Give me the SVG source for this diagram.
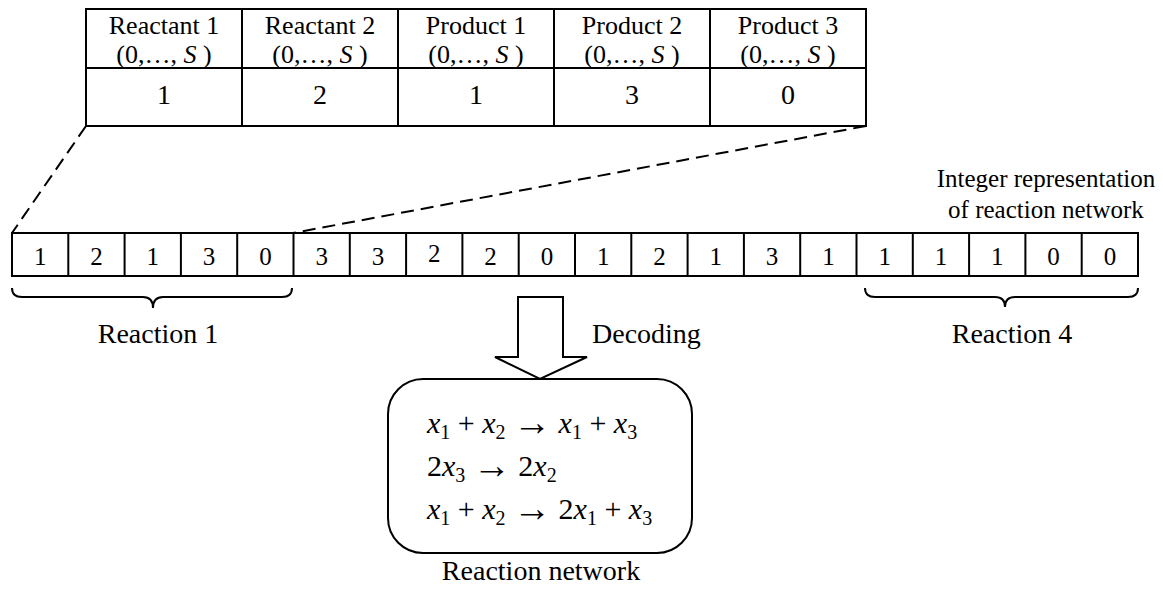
<svg xmlns="http://www.w3.org/2000/svg" width="1163" height="590" viewBox="0 0 1163 590" font-family="Liberation Serif, Times New Roman, Tinos, DejaVu Serif, serif">
<style>
text{fill:#000}
.hd{font-size:26px;text-anchor:middle}
.val{font-size:28px;text-anchor:middle}
.dig{font-size:25px;text-anchor:middle}
.lbl{font-size:28px}
.eq{font-size:30px}
.sub{font-size:20px}
.arw{font-size:38px}
.ln{stroke:#000;stroke-width:2;fill:none}
.dash{stroke:#000;stroke-width:2;fill:none;stroke-dasharray:13 7}
</style>
<rect width="1163" height="590" fill="#fff"/>
<g id="table">
<rect class="ln" x="86" y="9" width="780" height="117"/>
<line class="ln" x1="86" y1="68" x2="866" y2="68"/>
<line class="ln" x1="242" y1="9" x2="242" y2="126"/>
<line class="ln" x1="398" y1="9" x2="398" y2="126"/>
<line class="ln" x1="554" y1="9" x2="554" y2="126"/>
<line class="ln" x1="710" y1="9" x2="710" y2="126"/>
<text class="hd" x="164" y="34">Reactant 1</text>
<text class="hd" x="320" y="34">Reactant 2</text>
<text class="hd" x="476" y="34">Product 1</text>
<text class="hd" x="632" y="34">Product 2</text>
<text class="hd" x="788" y="34">Product 3</text>
<text class="hd" x="164" y="63">(0,…, <tspan font-style="italic">S</tspan> )</text>
<text class="hd" x="320" y="63">(0,…, <tspan font-style="italic">S</tspan> )</text>
<text class="hd" x="476" y="63">(0,…, <tspan font-style="italic">S</tspan> )</text>
<text class="hd" x="632" y="63">(0,…, <tspan font-style="italic">S</tspan> )</text>
<text class="hd" x="788" y="63">(0,…, <tspan font-style="italic">S</tspan> )</text>
<text class="val" x="164" y="104">1</text>
<text class="val" x="320" y="104">2</text>
<text class="val" x="476" y="104">1</text>
<text class="val" x="632" y="104">3</text>
<text class="val" x="788" y="104">0</text>
</g>
<g id="connectors">
<line class="dash" x1="86" y1="126" x2="12" y2="233"/>
<line class="dash" x1="866" y1="126" x2="293" y2="233"/>
</g>
<g id="integer-row">
<rect class="ln" x="12" y="233" width="1126" height="43"/>
<path class="ln" d="M68.3 233V276M124.6 233V276M180.9 233V276M237.2 233V276M293.5 233V276M349.8 233V276M406.1 233V276M462.4 233V276M518.7 233V276M575 233V276M631.3 233V276M687.6 233V276M743.9 233V276M800.2 233V276M856.5 233V276M912.8 233V276M969.1 233V276M1025.4 233V276M1081.7 233V276"/>
<g class="dig">
<text x="40.2" y="265">1</text>
<text x="96.5" y="265">2</text>
<text x="152.8" y="265">1</text>
<text x="209.1" y="265">3</text>
<text x="265.4" y="265">0</text>
<text x="321.7" y="265">3</text>
<text x="378" y="265">3</text>
<text x="434.3" y="262">2</text>
<text x="490.6" y="265">2</text>
<text x="546.9" y="265">0</text>
<text x="603.2" y="265">1</text>
<text x="659.5" y="265">2</text>
<text x="715.8" y="265">1</text>
<text x="772.1" y="265">3</text>
<text x="828.4" y="265">1</text>
<text x="884.7" y="265">1</text>
<text x="941" y="265">1</text>
<text x="997.3" y="265">1</text>
<text x="1053.6" y="265">0</text>
<text x="1109.9" y="265">0</text>
</g>
<text font-size="25" text-anchor="middle" x="1046" y="187">Integer representation</text>
<text font-size="25" text-anchor="middle" x="1046" y="218">of reaction network</text>
</g>
<g id="reaction1">
<path class="ln" d="M12 288Q12 297 22 297H143Q153 297 153 308Q153 297 163 297H282Q292 297 292 288"/>
<text class="lbl" text-anchor="middle" x="158" y="343">Reaction 1</text>
</g>
<g id="reaction4">
<path class="ln" d="M865 288Q865 297 875 297H995Q1005 297 1005 307Q1005 297 1015 297H1128Q1138 297 1138 288"/>
<text class="lbl" text-anchor="middle" x="1012" y="343">Reaction 4</text>
</g>
<g id="decoding">
<polygon class="ln" fill="#fff" points="518,297 563,297 563,357 587,357 540,379 495,357 518,357"/>
<text class="lbl" x="592" y="343">Decoding</text>
</g>
<g id="network">
<rect class="ln" x="388" y="379" width="304" height="174" rx="35" ry="35"/>
<text class="eq" x="427" y="433"><tspan font-style="italic">x</tspan><tspan class="sub" dy="6">1</tspan><tspan dy="-6"> + </tspan><tspan font-style="italic">x</tspan><tspan class="sub" dy="6">2</tspan><tspan dy="-6"> </tspan><tspan class="arw" dy="2">→</tspan><tspan dy="-2"> </tspan><tspan font-style="italic">x</tspan><tspan class="sub" dy="6">1</tspan><tspan dy="-6"> + </tspan><tspan font-style="italic">x</tspan><tspan class="sub" dy="6">3</tspan></text>
<text class="eq" x="427" y="476">2<tspan font-style="italic">x</tspan><tspan class="sub" dy="6">3</tspan><tspan dy="-6"> </tspan><tspan class="arw" dy="2">→</tspan><tspan dy="-2"> 2</tspan><tspan font-style="italic">x</tspan><tspan class="sub" dy="6">2</tspan></text>
<text class="eq" x="427" y="519"><tspan font-style="italic">x</tspan><tspan class="sub" dy="6">1</tspan><tspan dy="-6"> + </tspan><tspan font-style="italic">x</tspan><tspan class="sub" dy="6">2</tspan><tspan dy="-6"> </tspan><tspan class="arw" dy="2">→</tspan><tspan dy="-2"> 2</tspan><tspan font-style="italic">x</tspan><tspan class="sub" dy="6">1</tspan><tspan dy="-6"> + </tspan><tspan font-style="italic">x</tspan><tspan class="sub" dy="6">3</tspan></text>
<text class="lbl" text-anchor="middle" x="541" y="580">Reaction network</text>
</g>
</svg>
